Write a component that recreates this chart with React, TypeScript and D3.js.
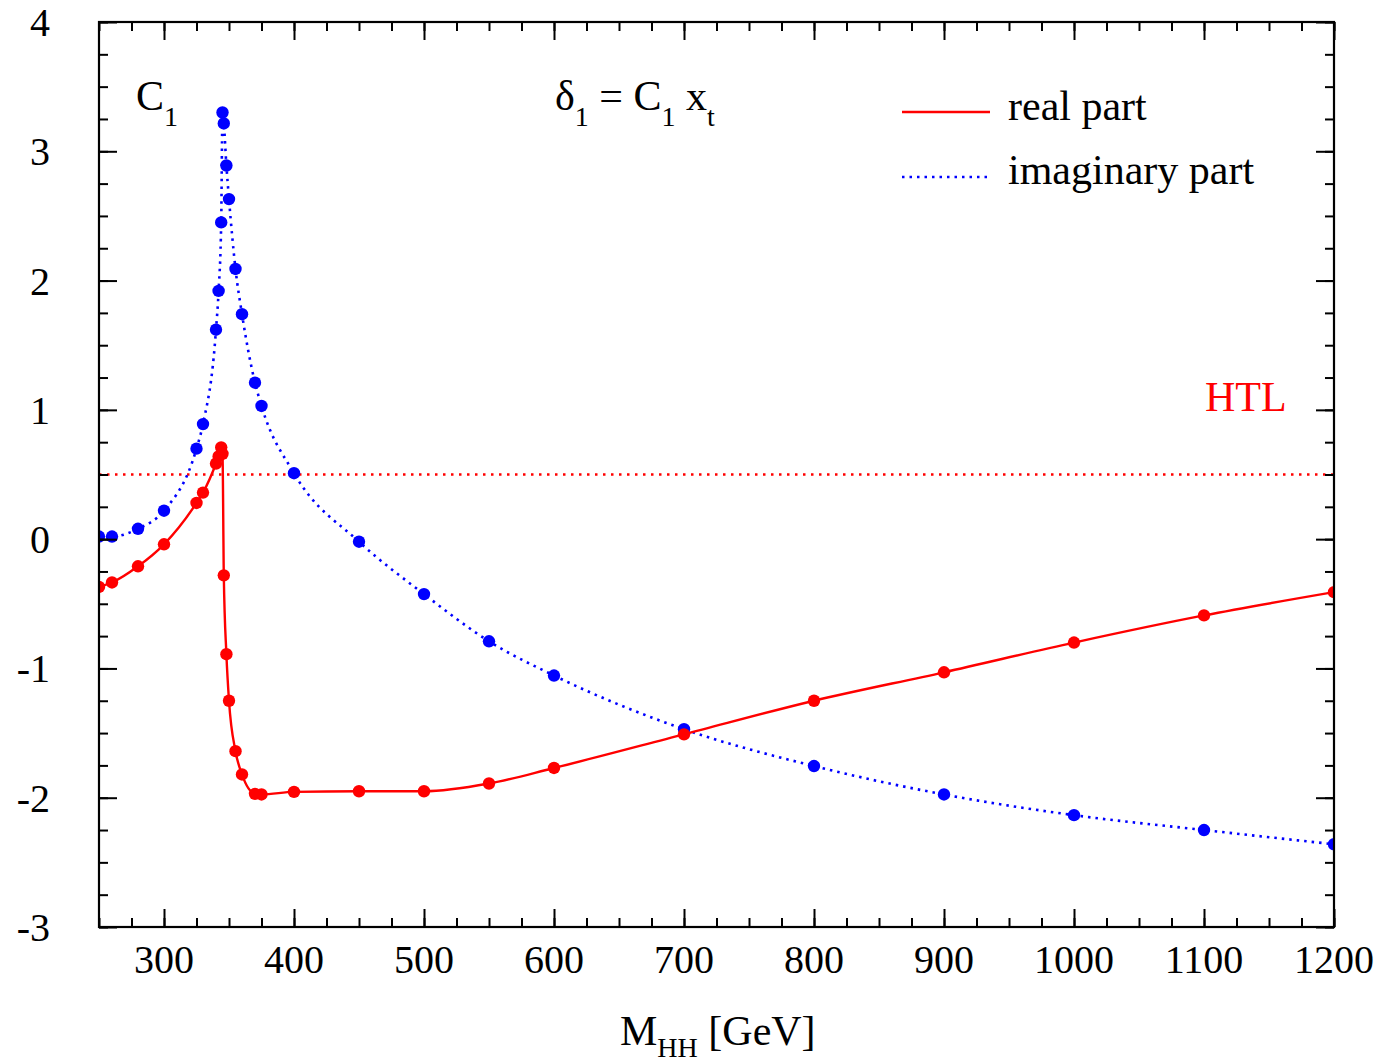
import React, { useEffect, useRef } from "react";
import * as d3 from "d3";

// C1 coefficient vs M_HH, real and imaginary parts, HTL limit
const W = 1384;
const H = 1063;
const MARGIN = { top: 22, right: 50, bottom: 136, left: 99 };

const realMass = [250, 260, 280, 300, 325, 330, 340, 342, 344, 345, 346, 348, 350, 355, 360, 370, 375, 400, 450, 500, 550, 600, 700, 800, 900, 1000, 1100, 1200];
const realPart = [-0.37, -0.335, -0.21, -0.04, 0.28, 0.36, 0.585, 0.64, 0.71, 0.66, -0.28, -0.89, -1.25, -1.64, -1.82, -1.97, -1.975, -1.955, -1.95, -1.95, -1.89, -1.77, -1.51, -1.25, -1.03, -0.8, -0.59, -0.41];

const imagMass = [250, 260, 280, 300, 325, 330, 340, 342, 344, 345, 346, 348, 350, 355, 360, 370, 375, 400, 450, 500, 550, 600, 700, 800, 900, 1000, 1100, 1200];
const imagPart = [0.02, 0.02, 0.08, 0.22, 0.7, 0.89, 1.62, 1.92, 2.45, 3.3, 3.215, 2.89, 2.63, 2.09, 1.74, 1.21, 1.03, 0.51, -0.02, -0.425, -0.79, -1.055, -1.47, -1.755, -1.975, -2.135, -2.25, -2.36];

const htlValue = 0.5;

const xMajor = [300, 400, 500, 600, 700, 800, 900, 1000, 1100, 1200];
const yMajor = [-3, -2, -1, 0, 1, 2, 3, 4];

const FONT = "'Liberation Serif', 'Times New Roman', serif";
const RED = "#ff0000";
const BLUE = "#0000ff";

export default function App() {
  const axesRef = useRef<SVGGElement>(null);
  const boundsWidth = W - MARGIN.left - MARGIN.right;
  const boundsHeight = H - MARGIN.top - MARGIN.bottom;

  const xScale = d3.scaleLinear().domain([250, 1200]).range([0, boundsWidth]);
  const yScale = d3.scaleLinear().domain([-3, 4]).range([boundsHeight, 0]);

  const xMinor = d3.range(250, 1200.1, 25);
  const yMinor = d3.range(-3, 4.01, 0.25);

  useEffect(() => {
    const g = d3.select(axesRef.current);
    g.selectAll("*").remove();
    const addAxis = (axis: any, transform: string) => {
      const a = g.append("g").attr("transform", transform).call(axis);
      a.select(".domain").remove();
      a.selectAll("text").remove();
      a.selectAll("line").attr("stroke", "#000").attr("stroke-width", 2);
    };
    // major ticks (inward) on all four sides
    addAxis(d3.axisBottom(xScale).tickValues(xMajor).tickSizeInner(-18).tickSizeOuter(0), `translate(0,${boundsHeight})`);
    addAxis(d3.axisTop(xScale).tickValues(xMajor).tickSizeInner(-18).tickSizeOuter(0), "translate(0,0)");
    addAxis(d3.axisLeft(yScale).tickValues(yMajor).tickSizeInner(-18).tickSizeOuter(0), "translate(0,0)");
    addAxis(d3.axisRight(yScale).tickValues(yMajor).tickSizeInner(-18).tickSizeOuter(0), `translate(${boundsWidth},0)`);
    // minor ticks
    addAxis(d3.axisBottom(xScale).tickValues(xMinor).tickSizeInner(-9).tickSizeOuter(0), `translate(0,${boundsHeight})`);
    addAxis(d3.axisTop(xScale).tickValues(xMinor).tickSizeInner(-9).tickSizeOuter(0), "translate(0,0)");
    addAxis(d3.axisLeft(yScale).tickValues(yMinor).tickSizeInner(-9).tickSizeOuter(0), "translate(0,0)");
    addAxis(d3.axisRight(yScale).tickValues(yMinor).tickSizeInner(-9).tickSizeOuter(0), `translate(${boundsWidth},0)`);
  }, []);

  const realData = realMass.map((m, i) => [m, realPart[i]] as [number, number]);
  const imagData = imagMass.map((m, i) => [m, imagPart[i]] as [number, number]);

  const lineGen = d3
    .line<[number, number]>()
    .x((d) => xScale(d[0]))
    .y((d) => yScale(d[1]))
    .curve(d3.curveMonotoneX);

  return (
    <svg width={W} height={H} style={{ position: "absolute", left: 0, top: 0, background: "#fff" }} fontFamily={FONT}>
      <defs>
        <clipPath id="plotclip">
          <rect x={0} y={0} width={boundsWidth} height={boundsHeight} />
        </clipPath>
      </defs>
      <g transform={`translate(${MARGIN.left},${MARGIN.top})`}>
        <g clipPath="url(#plotclip)">
          <line
            x1={0}
            x2={boundsWidth}
            y1={yScale(htlValue)}
            y2={yScale(htlValue)}
            stroke={RED}
            strokeWidth={2.5}
            strokeDasharray="2.5,5.5"
          />
          <path d={lineGen(imagData) || ""} fill="none" stroke={BLUE} strokeWidth={2.6} strokeDasharray="2.5,5" />
          <path d={lineGen(realData) || ""} fill="none" stroke={RED} strokeWidth={2.4} />
          {imagData.map((d, i) => (
            <circle key={"i" + i} cx={xScale(d[0])} cy={yScale(d[1])} r={6.2} fill={BLUE} />
          ))}
          {realData.map((d, i) => (
            <circle key={"r" + i} cx={xScale(d[0])} cy={yScale(d[1])} r={6.2} fill={RED} />
          ))}
        </g>
        <g ref={axesRef} />
        <rect x={0} y={0} width={boundsWidth} height={boundsHeight} fill="none" stroke="#000" strokeWidth={2.2} />

        {xMajor.map((t) => (
          <text key={"xl" + t} x={xScale(t)} y={boundsHeight + 46} textAnchor="middle" fontSize={40}>
            {t}
          </text>
        ))}
        {yMajor.map((t) => (
          <text key={"yl" + t} x={-49} y={yScale(t)} dy="0.35em" textAnchor="end" fontSize={40}>
            {t < 0 ? "-" + Math.abs(t) : t}
          </text>
        ))}

        <text x={xScale(250) + 37} y={88} fontSize={42}>
          C<tspan fontSize={28} dy={16}>1</tspan>
        </text>

        <text x={456} y={88} fontSize={42}>
          δ<tspan fontSize={28} dy={16}>1</tspan>
          <tspan dy={-16}> = C</tspan>
          <tspan fontSize={28} dy={16}>1</tspan>
          <tspan dy={-16}> x</tspan>
          <tspan fontSize={28} dy={16}>t</tspan>
        </text>

        <line x1={803} x2={891} y1={90} y2={90} stroke={RED} strokeWidth={2.4} />
        <text x={909} y={98} fontSize={42}>real part</text>
        <line x1={803} x2={891} y1={155} y2={155} stroke={BLUE} strokeWidth={2.6} strokeDasharray="2.5,5" />
        <text x={909} y={162} fontSize={42}>imaginary part</text>

        <text x={1106} y={389} fontSize={42} fill={RED}>HTL</text>
      </g>

      <text x={620} y={1045} fontSize={42}>
        M<tspan fontSize={28} dy={12}>HH</tspan>
        <tspan dy={-12}> [GeV]</tspan>
      </text>
    </svg>
  );
}
